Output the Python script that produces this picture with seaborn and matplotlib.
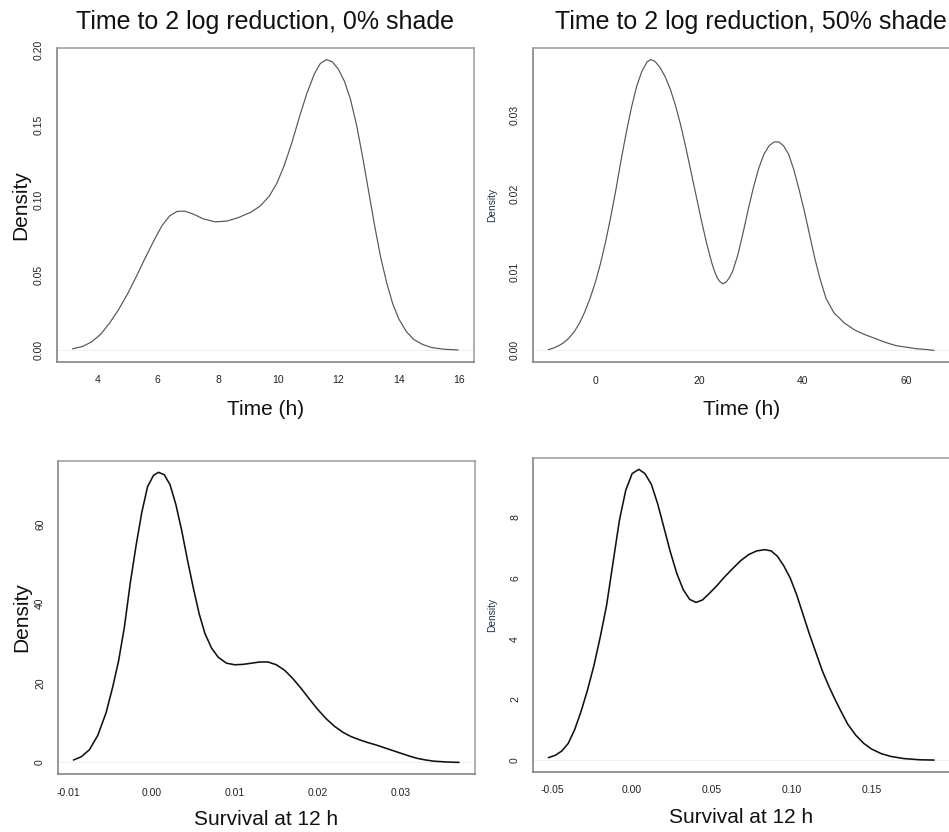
import numpy as np
import pandas as pd
import seaborn as sns
import matplotlib
matplotlib.use("Agg")
import matplotlib.pyplot as plt

# ---------------- data ----------------
titles = ["Time to 2 log reduction, 0% shade", "Time to 2 log reduction, 50% shade"]
xlabels = ["Time (h)", "Time (h)", "Survival at 12 h", "Survival at 12 h"]

t0_x = [3.17, 3.5, 3.8, 4.1, 4.4, 4.7, 5.0, 5.3, 5.6, 5.9, 6.15, 6.4, 6.65, 6.9, 7.2,
        7.5, 7.9, 8.3, 8.7, 9.1, 9.4, 9.7, 9.95, 10.2, 10.45, 10.7, 10.95, 11.2, 11.4,
        11.6, 11.8, 12.0, 12.2, 12.4, 12.6, 12.8, 13.0, 13.2, 13.4, 13.6, 13.8, 14.0,
        14.25, 14.5, 14.8, 15.1, 15.5, 15.97]
t0_y = [0.0010, 0.0025, 0.0055, 0.0105, 0.0180, 0.0270, 0.0375, 0.0495, 0.0620, 0.0740,
        0.0832, 0.0895, 0.0925, 0.0926, 0.0905, 0.0876, 0.0855, 0.0860, 0.0885, 0.0920,
        0.0960, 0.1025, 0.1110, 0.1230, 0.1380, 0.1550, 0.1710, 0.1840, 0.1910, 0.1935,
        0.1920, 0.1870, 0.1790, 0.1670, 0.1500, 0.1290, 0.1060, 0.0830, 0.0620, 0.0450,
        0.0310, 0.0210, 0.0125, 0.0072, 0.0038, 0.0018, 0.0007, 0.0002]

t50_x = [-9.0, -8.0, -7.0, -6.0, -5.0, -4.0, -3.0, -2.0, -1.0, 0.0, 1.0, 2.0, 3.0, 4.0,
         5.0, 6.0, 7.0, 8.0, 9.0, 10.0, 10.7, 11.5, 12.5, 13.5, 14.5, 15.5, 16.5, 17.5,
         18.5, 19.5, 20.5, 21.5, 22.5, 23.0, 23.5, 24.0, 24.6, 25.2, 25.8, 26.5, 27.5,
         28.5, 29.5, 30.5, 31.5, 32.5, 33.5, 34.5, 35.4, 36.3, 37.3, 38.3, 39.3, 40.3,
         41.3, 42.3, 43.3, 44.5, 46.0, 48.0, 50.0, 52.0, 54.0, 56.0, 58.0, 60.0, 62.0,
         64.0, 65.3]
t50_y = [0.0001, 0.0003, 0.0006, 0.0010, 0.0016, 0.0024, 0.0035, 0.0049, 0.0066, 0.0086,
         0.0110, 0.0138, 0.0170, 0.0205, 0.0243, 0.0278, 0.0310, 0.0337, 0.0356, 0.0368,
         0.0371, 0.0369, 0.0361, 0.0349, 0.0333, 0.0312, 0.0287, 0.0258, 0.0227, 0.0196,
         0.0165, 0.0136, 0.0111, 0.0101, 0.0093, 0.0088, 0.0085, 0.0087, 0.0092, 0.0101,
         0.0122, 0.0150, 0.0180, 0.0208, 0.0232, 0.0250, 0.0261, 0.0266, 0.0266, 0.0261,
         0.0250, 0.0230, 0.0205, 0.0178, 0.0148, 0.0118, 0.0092, 0.0066, 0.0048, 0.0035,
         0.0026, 0.0020, 0.0015, 0.0010, 0.0006, 0.0004, 0.0002, 0.0001, 0.0000]

s0_x = [-0.00943, -0.0085, -0.0075, -0.0065, -0.0055, -0.0047, -0.0040, -0.0033, -0.0026,
        -0.0019, -0.0012, -0.0005, 0.0002, 0.0008, 0.0015, 0.0022, 0.0029, 0.0036, 0.0043,
        0.0050, 0.0057, 0.0064, 0.0072, 0.0080, 0.0090, 0.0100, 0.0110, 0.0120, 0.0130,
        0.0140, 0.0150, 0.0160, 0.0170, 0.0180, 0.0190, 0.0200, 0.0210, 0.0220, 0.0230,
        0.0240, 0.0250, 0.0260, 0.0270, 0.0280, 0.0290, 0.0300, 0.0310, 0.0320, 0.0330,
        0.0340, 0.0355, 0.0370]
s0_y = [0.6, 1.4, 3.2, 6.8, 12.5, 19.0, 25.5, 34.0, 45.0, 54.5, 63.0, 69.5, 72.3, 73.1,
        72.5, 70.0, 65.0, 58.5, 51.0, 44.0, 37.5, 32.5, 28.8, 26.5, 25.0, 24.6, 24.7, 25.0,
        25.3, 25.3, 24.6, 23.2, 21.1, 18.6, 15.9, 13.3, 11.0, 9.1, 7.6, 6.5, 5.7, 5.0, 4.4,
        3.7, 3.0, 2.3, 1.6, 1.0, 0.6, 0.3, 0.1, 0.0]

s50_x = [-0.0524, -0.0480, -0.0440, -0.0400, -0.0360, -0.0320, -0.0280, -0.0240, -0.0200,
         -0.0160, -0.0120, -0.0080, -0.0040, 0.0000, 0.0042, 0.0080, 0.0120, 0.0160,
         0.0200, 0.0240, 0.0280, 0.0320, 0.0360, 0.0400, 0.0440, 0.0480, 0.0530, 0.0580,
         0.0630, 0.0680, 0.0730, 0.0780, 0.0830, 0.0870, 0.0910, 0.0950, 0.0990, 0.1030,
         0.1070, 0.1110, 0.1150, 0.1190, 0.1230, 0.1270, 0.1310, 0.1350, 0.1400, 0.1450,
         0.1500, 0.1560, 0.1620, 0.1700, 0.1800, 0.1890]
s50_y = [0.08, 0.16, 0.30, 0.55, 1.00, 1.60, 2.30, 3.10, 4.05, 5.10, 6.50, 7.90, 8.90, 9.45,
         9.59, 9.45, 9.10, 8.45, 7.65, 6.85, 6.15, 5.62, 5.30, 5.20, 5.28, 5.48, 5.75, 6.05,
         6.32, 6.58, 6.78, 6.90, 6.94, 6.90, 6.72, 6.40, 6.00, 5.45, 4.80, 4.15, 3.55, 2.95,
         2.45, 2.00, 1.58, 1.18, 0.82, 0.55, 0.36, 0.21, 0.12, 0.05, 0.01, 0.00]

xticks = [[4, 6, 8, 10, 12, 14, 16], [0, 20, 40, 60],
          [-0.01, 0.00, 0.01, 0.02, 0.03], [-0.05, 0.00, 0.05, 0.10, 0.15]]
xticklabels = [["4", "6", "8", "10", "12", "14", "16"], ["0", "20", "40", "60"],
               ["-0.01", "0.00", "0.01", "0.02", "0.03"],
               ["-0.05", "0.00", "0.05", "0.10", "0.15"]]
yticks = [[0.0, 0.05, 0.10, 0.15, 0.20], [0.0, 0.01, 0.02, 0.03],
          [0, 20, 40, 60], [0, 2, 4, 6, 8]]
yticklabels = [["0.00", "0.05", "0.10", "0.15", "0.20"], ["0.00", "0.01", "0.02", "0.03"],
               ["0", "20", "40", "60"], ["0", "2", "4", "6", "8"]]

curves = [(t0_x, t0_y), (t50_x, t50_y), (s0_x, s0_y), (s50_x, s50_y)]

# ---------------- style ----------------
sns.set_theme(style="white")
plt.rcParams["font.family"] = ["Liberation Sans", "DejaVu Sans"]
plt.rcParams["axes.unicode_minus"] = False

fig = plt.figure(figsize=(9.49, 8.32), dpi=100)
W, H = 949.0, 832.0
# axes boxes in pixels: left, top, right, bottom
boxes = [(57, 48, 473.5, 361.6), (533, 48, 949.5, 362),
         (58, 460.7, 474.5, 774), (533, 457.7, 949.5, 771.7)]

line_colors = ["#555555", "#555555", "#111111", "#111111"]
line_widths = [0.85, 0.85, 1.15, 1.15]
big_ylabel = [True, False, True, False]
title_x = [0.5, 0.524]
xlabel_y = [-0.122, -0.122, -0.115, -0.115]

for i, (cx, cy) in enumerate(curves):
    l, t, r, b = boxes[i]
    ax = fig.add_axes([l / W, 1 - b / H, (r - l) / W, (b - t) / H])
    df = pd.DataFrame({"x": cx, "y": cy})
    ax.axhline(0, color="#eeeeee", lw=0.6, zorder=0)
    sns.lineplot(data=df, x="x", y="y", ax=ax, estimator=None, sort=False,
                 color=line_colors[i], lw=line_widths[i])
    xr = max(cx) - min(cx)
    yr = max(cy) - min(cy)
    ax.set_xlim(min(cx) - 0.04 * xr, max(cx) + 0.04 * xr)
    ax.set_ylim(min(cy) - 0.04 * yr, max(cy) + 0.04 * yr)

    ax.set_xticks(xticks[i])
    ax.set_xticklabels(xticklabels[i])
    ax.set_yticks(yticks[i])
    ax.set_yticklabels(yticklabels[i], rotation=90, va="center")
    ax.tick_params(axis="both", which="major", direction="out", length=4.3, width=0.9,
                   color="#666666", labelsize=7.5, labelcolor="#222222")
    ax.tick_params(axis="x", pad=5.5)
    ax.tick_params(axis="y", pad=5)
    for side, sp in ax.spines.items():
        sp.set_visible(True)
        sp.set_color("#7a7a7a" if side in ("left", "bottom") else "#9a9a9a")
        sp.set_linewidth(1.1)

    ax.set_xlabel(xlabels[i], fontsize=15, color="#111111")
    ax.xaxis.set_label_coords(0.5, xlabel_y[i])
    if big_ylabel[i]:
        ax.set_ylabel("Density", fontsize=15, color="#111111")
        ax.yaxis.set_label_coords(-0.065, 0.5)
    else:
        ax.set_ylabel("Density", fontsize=7.3, color="#1f2f4f")
        ax.yaxis.set_label_coords(-0.086, 0.5)
    if i < 2:
        ax.set_title(titles[i], fontsize=18, color="#111111", pad=13.5, x=title_x[i])

fig.savefig("out.png", dpi=100, facecolor="white")
